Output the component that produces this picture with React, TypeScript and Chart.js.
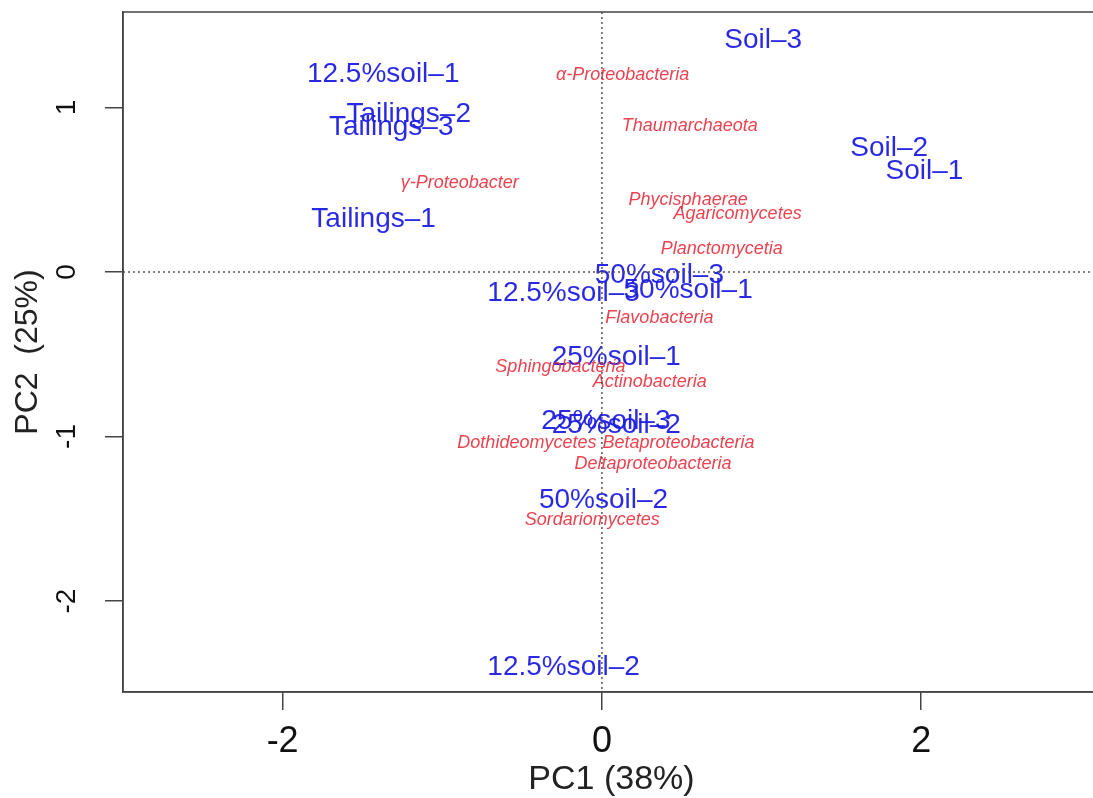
import React, { useEffect, useRef } from "react";
import { Chart, registerables } from "chart.js";

Chart.register(...registerables);

const sampleNames = [
  "Soil–3", "12.5%soil–1", "Tailings–2", "Tailings–3", "Tailings–1",
  "Soil–2", "Soil–1", "50%soil–3", "12.5%soil–3", "50%soil–1",
  "25%soil–1", "25%soil–3", "25%soil–2", "50%soil–2", "12.5%soil–2",
];
const sampleX = [1.01, -1.37, -1.21, -1.32, -1.43, 1.8, 2.02, 0.36, -0.24, 0.54, 0.09, 0.025, 0.09, 0.01, -0.24];
const sampleY = [1.41, 1.2, 0.96, 0.88, 0.32, 0.75, 0.61, -0.02, -0.13, -0.11, -0.52, -0.91, -0.93, -1.39, -2.4];

const taxaNames = [
  "α-Proteobacteria", "Thaumarchaeota", "γ-Proteobacter", "Phycisphaerae",
  "Agaricomycetes", "Planctomycetia", "Flavobacteria", "Sphingobacteria",
  "Actinobacteria", "Dothideomycetes", "Betaproteobacteria", "Deltaproteobacteria",
  "Sordariomycetes",
];
const taxaX = [0.13, 0.55, -0.89, 0.54, 0.85, 0.75, 0.36, -0.26, 0.3, -0.47, 0.48, 0.32, -0.06];
const taxaY = [1.2, 0.89, 0.54, 0.44, 0.35, 0.14, -0.28, -0.58, -0.67, -1.04, -1.04, -1.17, -1.51];

const xTicks = [-2, 0, 2];
const yTicks = [-2, -1, 0, 1];

const FONT = "'Liberation Sans', Arial, sans-serif";

const labelPlugin = {
  id: "textLabels",
  afterDatasetsDraw(chart: any) {
    const { ctx, chartArea, scales } = chart;
    ctx.save();
    ctx.beginPath();
    ctx.rect(chartArea.left, chartArea.top, chartArea.right - chartArea.left, chartArea.bottom - chartArea.top);
    ctx.clip();
    chart.data.datasets.forEach((ds: any, di: number) => {
      const meta = chart.getDatasetMeta(di);
      ctx.font = ds.labelFont;
      ctx.fillStyle = ds.labelColor;
      ctx.textAlign = "center";
      ctx.textBaseline = "middle";
      meta.data.forEach((el: any, i: number) => {
        ctx.fillText(ds.labels[i], el.x, el.y);
      });
    });
    // dotted zero lines
    const x0 = scales.x.getPixelForValue(0);
    const y0 = scales.y.getPixelForValue(0);
    ctx.strokeStyle = "#555";
    ctx.lineWidth = 1.5;
    ctx.setLineDash([2, 3]);
    ctx.beginPath();
    ctx.moveTo(x0, chartArea.top);
    ctx.lineTo(x0, chartArea.bottom);
    ctx.moveTo(chartArea.left, y0);
    ctx.lineTo(chartArea.right, y0);
    ctx.stroke();
    ctx.restore();
    // box
    ctx.save();
    ctx.strokeStyle = "#444";
    ctx.lineWidth = 1.5;
    ctx.strokeRect(chartArea.left, chartArea.top, chartArea.right - chartArea.left, chartArea.bottom - chartArea.top);
    ctx.restore();
  },
};

const zeroPad = (s: any) => {
  s.paddingTop = 0;
  s.paddingBottom = 0;
  s.paddingLeft = 0;
  s.paddingRight = 0;
};

export default function App() {
  const ref = useRef<HTMLCanvasElement>(null);
  useEffect(() => {
    if (!ref.current) return;
    const chart = new Chart(ref.current, {
      type: "scatter",
      data: {
        datasets: [
          {
            data: sampleX.map((x, i) => ({ x, y: sampleY[i] })),
            labels: sampleNames,
            labelFont: `28px ${FONT}`,
            labelColor: "rgba(30,30,225,0.95)",
            pointRadius: 0,
          } as any,
          {
            data: taxaX.map((x, i) => ({ x, y: taxaY[i] })),
            labels: taxaNames,
            labelFont: `italic 18px ${FONT}`,
            labelColor: "rgba(232,45,60,0.9)",
            pointRadius: 0,
          } as any,
        ],
      },
      options: {
        animation: false,
        responsive: false,
        layout: { padding: { top: 12, right: 10, left: 0, bottom: 0 } },
        plugins: { legend: { display: false }, tooltip: { enabled: false } },
        scales: {
          x: {
            type: "linear",
            min: -3.0,
            max: 3.12,
            afterFit: (s: any) => { s.height = 106; zeroPad(s); },
            afterBuildTicks: (s: any) => { s.ticks = xTicks.map((v) => ({ value: v })); },
            grid: { drawOnChartArea: false, drawTicks: true, tickLength: 18, color: "#444", lineWidth: 1.5 },
            border: { display: true, color: "#444", width: 1.5 },
            ticks: { font: { family: FONT, size: 36 }, color: "#111", padding: 10, includeBounds: false },
            title: { display: true, text: "PC1 (38%)", font: { family: FONT, size: 34, lineHeight: 1 }, color: "#222", padding: { top: 0, bottom: 1 } },
          },
          y: {
            type: "linear",
            min: -2.553,
            max: 1.58,
            afterFit: (s: any) => { s.width = 123; zeroPad(s); },
            afterBuildTicks: (s: any) => { s.ticks = yTicks.map((v) => ({ value: v })); },
            grid: { drawOnChartArea: false, drawTicks: true, tickLength: 18, color: "#444", lineWidth: 1.5 },
            border: { display: true, color: "#444", width: 1.5 },
            ticks: { font: { family: FONT, size: 28 }, color: "#111", padding: 25, minRotation: 90, maxRotation: 90, crossAlign: "center", includeBounds: false },
            title: { display: true, text: "PC2  (25%)", font: { family: FONT, size: 32, lineHeight: 1 }, color: "#222", padding: { top: 12, bottom: 0 } },
          },
        },
      },
      plugins: [labelPlugin],
    } as any);
    return () => chart.destroy();
  }, []);
  return (
    <div style={{ position: "fixed", left: 0, top: 0, width: 1110, height: 798, background: "#fff" }}>
      <canvas ref={ref} width={1110} height={798} />
    </div>
  );
}
